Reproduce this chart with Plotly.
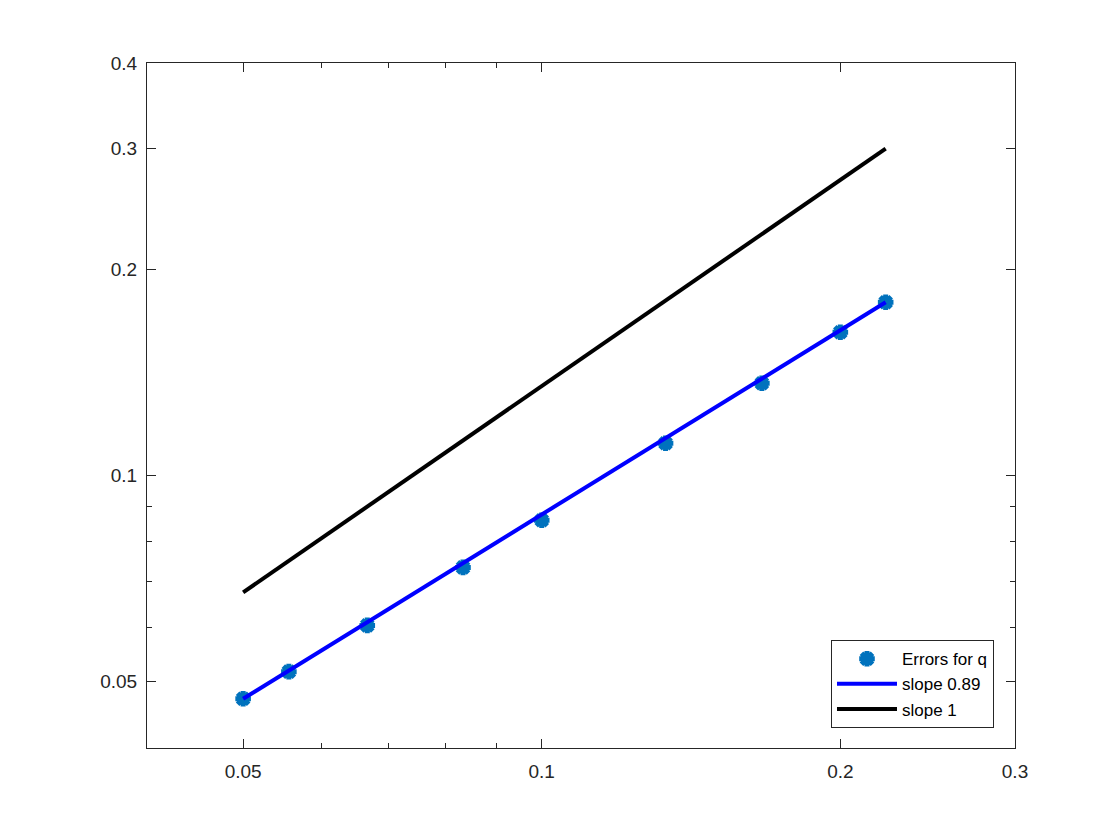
import math
import plotly.graph_objects as go

# Data (log-log plot)
h_values = [0.05, 0.0556, 0.0667, 0.0833, 0.1, 0.1333, 0.1667, 0.2, 0.2222]
errors_q = [0.0472, 0.0517, 0.0604, 0.0734, 0.0860, 0.1114, 0.1363, 0.1618, 0.1790]

fit_x = [0.05, 0.2222]
fit_y = [0.0472, 0.1790]          # slope 0.89 fit line

ref_x = [0.05, 0.2222]
ref_y = [0.0675, 0.3000]          # slope 1 reference line

x_major = [0.05, 0.1, 0.2, 0.3]
x_major_text = ["0.05", "0.1", "0.2", "0.3"]
x_minor = [0.06, 0.07, 0.08, 0.09]
y_major = [0.05, 0.1, 0.2, 0.3, 0.4]
y_major_text = ["0.05", "0.1", "0.2", "0.3", "0.4"]
y_minor = [0.06, 0.07, 0.08, 0.09]

FONT = "Liberation Sans, Arial, Helvetica, sans-serif"

fig = go.Figure()
fig.add_trace(go.Scatter(
    x=h_values, y=errors_q, mode="markers", name="Errors for q",
    marker=dict(symbol="asterisk-open", size=13, color="#0072BD",
                line=dict(color="#0072BD", width=5)),
))
fig.add_trace(go.Scatter(
    x=fit_x, y=fit_y, mode="lines", name="slope 0.89",
    line=dict(color="#0000FF", width=4),
))
fig.add_trace(go.Scatter(
    x=ref_x, y=ref_y, mode="lines", name="slope 1",
    line=dict(color="#000000", width=4),
))

axis_common = dict(
    type="log", showgrid=False, zeroline=False,
    showline=True, linecolor="#262626", linewidth=1, mirror="ticks",
    ticks="inside", ticklen=9, tickwidth=1, tickcolor="#262626",
    tickfont=dict(family=FONT, size=19, color="#262626"),
    tickmode="array",
)

fig.update_xaxes(
    **axis_common,
    range=[math.log10(0.04), math.log10(0.3)],
    tickvals=x_major, ticktext=x_major_text,
    ticklabelstandoff=6,
    minor=dict(tickmode="array", tickvals=x_minor, ticks="inside",
               ticklen=5, tickcolor="#262626", tickwidth=1),
)
fig.update_yaxes(
    **axis_common,
    range=[math.log10(0.04), math.log10(0.4)],
    tickvals=y_major, ticktext=y_major_text,
    ticklabelstandoff=5,
    minor=dict(tickmode="array", tickvals=y_minor, ticks="inside",
               ticklen=5, tickcolor="#262626", tickwidth=1),
)

fig.update_layout(
    width=1120, height=840,
    margin=dict(l=139, r=113, t=55, b=100),
    paper_bgcolor="white", plot_bgcolor="white",
    font=dict(family=FONT, size=17, color="#000000"),
    legend=dict(
        x=0.9758, y=0.029, xanchor="right", yanchor="bottom",
        bgcolor="white", bordercolor="#262626", borderwidth=1,
        font=dict(family=FONT, size=17, color="#000000"),
        tracegroupgap=0, itemwidth=60,
    ),
)

fig.write_html("out.html")
